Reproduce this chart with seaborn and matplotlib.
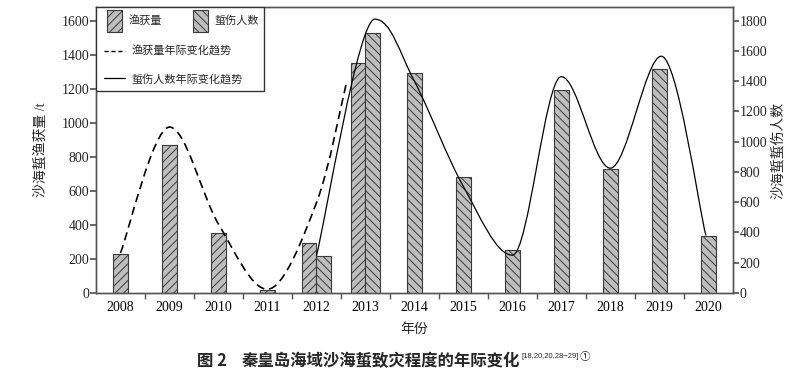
import numpy as np
import pandas as pd
import matplotlib
matplotlib.use("Agg")
import matplotlib.pyplot as plt
import seaborn as sns
from matplotlib.patches import Patch, Rectangle, PathPatch
from matplotlib.lines import Line2D
from matplotlib.path import Path

# data
years = [2008, 2009, 2010, 2011, 2012, 2013, 2014, 2015, 2016, 2017, 2018, 2019, 2020]
catch_years = [2008, 2009, 2010, 2011, 2012, 2013]
catch_t = [232, 867, 355, 20, 292, 1349]
sting_years = [2012, 2013, 2014, 2015, 2016, 2017, 2018, 2019, 2020]
sting_people = [244, 1717, 1453, 764, 286, 1343, 819, 1480, 380]

# smoothed trend curves (control points)
catch_trend_years = [2008, 2009, 2010, 2011, 2012, 2012.62]
catch_trend = [235, 975, 405, 22, 530, 1245]
sting_trend_years = [2012, 2013.19, 2014, 2015, 2016, 2017, 2018, 2019.04, 2019.95]
sting_trend = [245, 1810, 1400, 704, 250, 1430, 825, 1565, 380]

GRAY = "#bebebe"
EDGE = "#3a3a3a"
AXC = "#555555"


def smooth_path(xs, ys):
    """Bezier path through the control points, flat at local peaks and dips."""
    pts = np.column_stack([xs, ys]).astype(float)
    n = len(pts)
    tang = np.zeros_like(pts)
    for i in range(n):
        if i == 0:
            tang[i] = (pts[1] - pts[0]) / 2
        elif i == n - 1:
            tang[i] = (pts[-1] - pts[-2]) / 2
        else:
            tang[i] = (pts[i + 1] - pts[i - 1]) / 2
            dy1 = pts[i, 1] - pts[i - 1, 1]
            dy2 = pts[i + 1, 1] - pts[i, 1]
            if dy1 * dy2 < 0:
                tang[i, 1] = 0.0
    verts = [pts[0]]
    codes = [Path.MOVETO]
    for i in range(n - 1):
        verts += [pts[i] + tang[i] / 3, pts[i + 1] - tang[i + 1] / 3, pts[i + 1]]
        codes += [Path.CURVE4] * 3
    return Path(verts, codes)


sns.set_theme(style="ticks")
plt.rcParams["font.family"] = ["Liberation Serif", "Noto Sans CJK SC"]
plt.rcParams["hatch.linewidth"] = 0.7
plt.rcParams["axes.unicode_minus"] = False

catch_df = pd.DataFrame({"year": catch_years, "value": catch_t})
sting_df = pd.DataFrame({"year": sting_years, "value": sting_people})
both = sorted(set(catch_years) & set(sting_years))

fig = plt.figure(figsize=(8, 3.71), dpi=100)
ax = fig.add_axes([0.12, 0.2102, 0.796, 0.7708])
ax2 = ax.twinx()

sns.barplot(data=catch_df, x="year", y="value", order=years, ax=ax, width=0.3,
            color=GRAY, edgecolor=EDGE, linewidth=0.8, hatch="////", saturation=1)
sns.barplot(data=sting_df, x="year", y="value", order=years, ax=ax2, width=0.3,
            color=GRAY, edgecolor=EDGE, linewidth=0.8, hatch="\\\\\\\\", saturation=1)

# put the two bars of a shared year side by side
for axis, shift in ((ax, -0.15), (ax2, 0.15)):
    for bar in axis.patches:
        xc = bar.get_x() + bar.get_width() / 2
        if years[int(round(xc))] in both:
            bar.set_x(bar.get_x() + shift)

idx = lambda ys: [y - years[0] for y in ys]
ax.add_patch(PathPatch(smooth_path(idx(catch_trend_years), catch_trend), fill=False,
                       edgecolor="black", lw=1.2, linestyle=(0, (5, 3)), zorder=5))
ax2.add_patch(PathPatch(smooth_path(idx(sting_trend_years), sting_trend), fill=False,
                        edgecolor="black", lw=0.9, zorder=5))

ax.set_xlim(-0.5, len(years) - 0.5)
ax.set_ylim(0, 1680)
ax2.set_ylim(0, 1890)
ax.set_yticks(range(0, 1601, 200))
ax2.set_yticks(range(0, 1801, 200))
ax.set_xticks(range(len(years)))
ax.set_xticklabels([str(y) for y in years])
ax.set_xticks(np.arange(0.5, len(years) - 1, 1), minor=True)

for a in (ax, ax2):
    for s in a.spines.values():
        s.set_visible(True)
        s.set_color(AXC)
        s.set_linewidth(1.0)
ax.tick_params(axis="x", which="major", length=0, labelsize=10, pad=6, colors="black")
ax.tick_params(axis="x", which="minor", length=4, direction="out", color=AXC)
ax.tick_params(axis="y", length=4, direction="out", labelsize=10, pad=1, color=AXC)
ax2.tick_params(axis="y", length=4, direction="out", labelsize=10, pad=1, color=AXC)

ax.set_xlabel("年份", fontsize=10, labelpad=6)
ax.set_ylabel("沙海蜇渔获量 /t", fontsize=10, labelpad=10)
ax2.set_ylabel("沙海蜇蜇伤人数", fontsize=10, labelpad=3)

# legend: framed box in the upper-left corner
ax2.add_patch(Rectangle((0, 0.707), 0.264, 0.293, transform=ax2.transAxes,
                        facecolor="white", edgecolor="#333333", lw=1.0, zorder=8))
bar_handles = [Patch(facecolor=GRAY, edgecolor=EDGE, hatch="////", lw=0.8),
               Patch(facecolor=GRAY, edgecolor=EDGE, hatch="\\\\\\\\", lw=0.8)]
leg1 = ax2.legend(bar_handles, ["渔获量", "蜇伤人数"], ncol=2, loc="upper left",
                  bbox_to_anchor=(0.0126, 1.0), frameon=False, fontsize=8,
                  handlelength=1.35, handleheight=2.65, handletextpad=0.6,
                  columnspacing=2.8, borderaxespad=0.0, borderpad=0.25)
leg1.set_zorder(9)
ax2.add_artist(leg1)
line_handles = [Line2D([], [], color="black", lw=1.0, linestyle=(0, (3, 2))),
                Line2D([], [], color="black", lw=0.9)]
leg2 = ax2.legend(line_handles, ["渔获量年际变化趋势", "蜇伤人数年际变化趋势"], loc="upper left",
                  bbox_to_anchor=(0.0, 0.891), frameon=False, fontsize=8,
                  handlelength=1.9, handletextpad=0.6, labelspacing=1.47, borderaxespad=0.3)
leg2.set_zorder(9)

fig.text(197 / 800, 0.028, "图 2", fontsize=11.8, fontweight="bold",
         family=["Noto Sans CJK SC"], va="center", ha="left")
cap = fig.text(242 / 800, 0.028, "秦皇岛海域沙海蜇致灾程度的年际变化", fontsize=11.8,
               fontweight="bold", family=["Noto Sans CJK SC"], va="center", ha="left")
sup = ax.annotate("[18,20,20,28−29]", xy=(1, 1), xycoords=cap, xytext=(1, -1),
                  textcoords="offset points", fontsize=5.5, family=["Liberation Sans"],
                  va="top", ha="left", annotation_clip=False)
ax.annotate("①", xy=(1, 1), xycoords=sup, xytext=(0.5, 1), textcoords="offset points",
            fontsize=7.5, family=["Noto Sans CJK SC"], va="top", ha="left", annotation_clip=False)

fig.savefig("out.png", dpi=100)
